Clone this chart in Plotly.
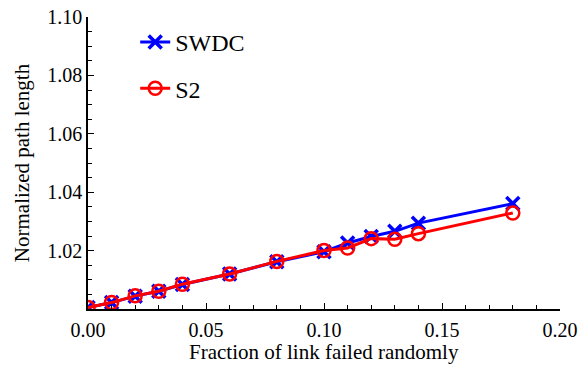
import plotly.graph_objects as go

# Fraction of links failed at random
failed_fraction = [0.00, 0.01, 0.02, 0.03, 0.04, 0.06, 0.08, 0.10, 0.11, 0.12, 0.13, 0.14, 0.18]

# Normalized path length for each topology
swdc_path = [1.0005, 1.0022, 1.0044, 1.0061, 1.0084, 1.0120, 1.0162, 1.0196, 1.0226, 1.0248, 1.0266, 1.0294, 1.0361]
s2_path = [1.0005, 1.0022, 1.0045, 1.0061, 1.0085, 1.0120, 1.0163, 1.0200, 1.0209, 1.0241, 1.0239, 1.0258, 1.0329]

y_ticks = [1.02, 1.04, 1.06, 1.08, 1.10]
x_ticks = [0.00, 0.05, 0.10, 0.15, 0.20]

FONT = "Liberation Serif"

fig = go.Figure()
fig.add_trace(go.Scatter(
    x=failed_fraction, y=swdc_path, name="SWDC", mode="lines+markers",
    legendgroup="swdc",
    line=dict(color="#0000ff", width=3),
    marker=dict(symbol="x-thin", size=13, line=dict(color="#0000ff", width=3.5)),
))
fig.add_trace(go.Scatter(
    x=failed_fraction, y=s2_path, name="S2", mode="lines+markers",
    legendgroup="s2",
    line=dict(color="#ff0000", width=3),
    marker=dict(symbol="circle-open", size=13, color="#ff0000", line=dict(width=2.5)),
))

axis_common = dict(
    showline=True, linecolor="black", linewidth=1.5, mirror=False,
    ticks="inside", ticklen=6, tickwidth=1.2, tickcolor="black",
    showgrid=False, zeroline=False, automargin=False,
    tickfont=dict(family=FONT, size=20, color="black"),
)

fig.update_xaxes(
    range=[0, 0.2], tickvals=x_ticks, ticktext=[f"{v:.2f}" for v in x_ticks],
    minor=dict(dtick=0.01, tick0=0, ticks="inside", ticklen=4, tickcolor="black", tickwidth=1),
    ticklabelstandoff=2,
    **axis_common,
)
fig.update_yaxes(
    range=[1.0, 1.1], tickvals=y_ticks, ticktext=[f"{v:.2f}" for v in y_ticks],
    minor=dict(dtick=0.005, tick0=1.0, ticks="inside", ticklen=4, tickcolor="black", tickwidth=1),
    title=dict(text="Normalized path length", font=dict(family=FONT, size=21, color="black"), standoff=12),
    **axis_common,
)

# x-axis title placed below the tick labels, kept inside the page
fig.add_annotation(
    text="Fraction of link failed randomly", xref="paper", yref="paper",
    x=0.5, y=0, xanchor="center", yanchor="bottom", yshift=-56, showarrow=False,
    borderpad=0,
    font=dict(family=FONT, size=21, color="black"),
)

fig.update_layout(
    width=580, height=366,
    margin=dict(l=88, r=20, t=17, b=57),
    paper_bgcolor="white", plot_bgcolor="white",
    showlegend=True,
    legend=dict(
        x=0.1, y=0.99, xanchor="left", yanchor="top",
        font=dict(family=FONT, size=24, color="black"),
        bgcolor="rgba(0,0,0,0)", tracegroupgap=12,
        traceorder="grouped",
    ),
)

fig.write_html("out.html")
